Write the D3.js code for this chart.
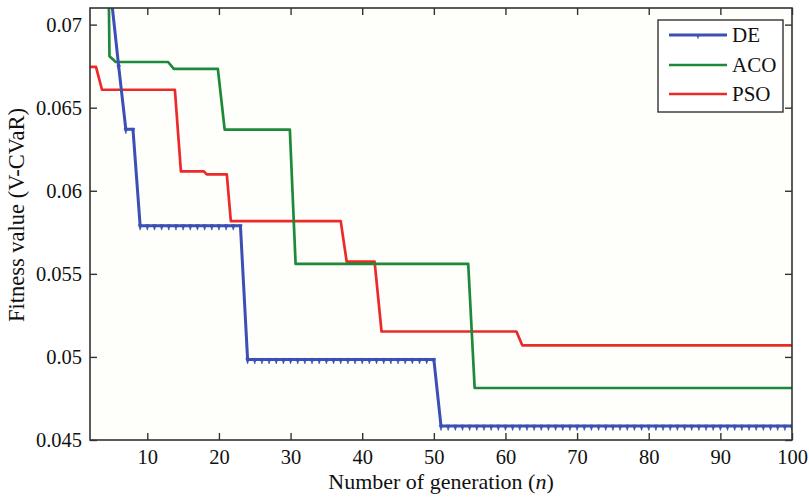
<!DOCTYPE html>
<html><head><meta charset="utf-8">
<script src="https://cdn.jsdelivr.net/npm/d3@7/dist/d3.min.js"></script>
<style>
body{margin:0;background:#fff}
svg{display:block}
text{font-family:"Liberation Serif","Times New Roman",serif;fill:#111}
</style></head>
<body><svg id="chart" width="809" height="497"></svg>
<script>
// ---- data ----
const xTicks = [10,20,30,40,50,60,70,80,90,100];
const yTicks = [0.045,0.05,0.055,0.06,0.065,0.07];
const yTickLabels = ["0.045","0.05","0.055","0.06","0.065","0.07"];
const seriesNames = ["DE","ACO","PSO"];

// DE: one value per generation, starting at generation 5
const deStart = 5;
const deValues = [
 0.0715,0.0675,0.0637,0.0637,
 0.0579,0.0579,0.0579,0.0579,0.0579,0.0579,0.0579,0.0579,0.0579,0.0579,0.0579,0.0579,0.0579,0.0579,0.0579,
 0.04985,0.04985,0.04985,0.04985,0.04985,0.04985,0.04985,0.04985,0.04985,0.04985,0.04985,0.04985,0.04985,0.04985,
 0.04985,0.04985,0.04985,0.04985,0.04985,0.04985,0.04985,0.04985,0.04985,0.04985,0.04985,0.04985,0.04985,
 0.04584,0.04584,0.04584,0.04584,0.04584,0.04584,0.04584,0.04584,0.04584,0.04584,
 0.04584,0.04584,0.04584,0.04584,0.04584,0.04584,0.04584,0.04584,0.04584,0.04584,
 0.04584,0.04584,0.04584,0.04584,0.04584,0.04584,0.04584,0.04584,0.04584,0.04584,
 0.04584,0.04584,0.04584,0.04584,0.04584,0.04584,0.04584,0.04584,0.04584,0.04584,
 0.04584,0.04584,0.04584,0.04584,0.04584,0.04584,0.04584,0.04584,0.04584,0.04584
];
// ACO breakpoints
const acoGen = [4.6,4.72,5.6,12.9,13.7,19.85,20.8,29.9,30.7,54.8,55.7,100];
const acoValues = [0.0725,0.0681,0.06775,0.06775,0.06734,0.06734,0.06368,0.06368,0.0556,0.0556,0.04813,0.04813];
// PSO breakpoints
const psoGen = [2,2.84,3.67,13.85,14.69,17.9,18.3,21.1,21.66,37.0,37.83,41.73,42.7,61.53,62.36,100];
const psoValues = [0.06746,0.06746,0.06608,0.06608,0.06117,0.06117,0.06099,0.06099,0.05817,0.05817,0.05574,0.05574,0.05153,0.05153,0.05069,0.05069];

// ---- layout ----
const L=90, R=792, T=8, B=440;
const colors = {DE:"#3b4fb5", ACO:"#1d8a3b", PSO:"#ec2a2a"};
const svg = d3.select("#chart");
const x = d3.scaleLinear().domain([2,100]).range([L,R]);
const y = d3.scaleLinear().domain([0.045,0.071]).range([B,T]);

svg.append("rect").attr("x",L).attr("y",T).attr("width",R-L).attr("height",B-T).attr("fill","#fefefb");

svg.append("clipPath").attr("id","clip").append("rect")
  .attr("x",L).attr("y",T).attr("width",R-L).attr("height",B-T);

const de = deValues.map((v,i)=>({n:deStart+i, v}));
const aco = acoGen.map((n,i)=>({n, v:acoValues[i]}));
const pso = psoGen.map((n,i)=>({n, v:psoValues[i]}));
const line = d3.line().x(d=>x(d.n)).y(d=>y(d.v));

const g = svg.append("g").attr("clip-path","url(#clip)");
g.append("path").datum(pso).attr("d",line).attr("fill","none").attr("stroke",colors.PSO).attr("stroke-width",2.7).attr("stroke-linejoin","round");
g.append("path").datum(aco).attr("d",line).attr("fill","none").attr("stroke",colors.ACO).attr("stroke-width",2.7).attr("stroke-linejoin","round");
g.append("path").datum(de).attr("d",line).attr("fill","none").attr("stroke",colors.DE).attr("stroke-width",3).attr("stroke-linejoin","round");
const tri = "M-1.8,-1 L1.8,-1 L0,4.5 Z";
g.selectAll(".m").data(de).enter().append("path")
  .attr("d",tri).attr("transform",d=>`translate(${x(d.n)},${y(d.v)})`)
  .attr("fill",colors.DE).attr("stroke",colors.DE).attr("stroke-width",0.6);

// ---- axes ----
const axisColor="#333";
const fs = 20.5;
const xb = d3.axisBottom(x).tickValues(xTicks).tickSizeInner(-7).tickSizeOuter(0).tickPadding(12);
const xa = svg.append("g").attr("transform",`translate(0,${B})`).call(xb);
const xt = d3.axisTop(x).tickValues(xTicks).tickSizeInner(-7).tickSizeOuter(0).tickFormat("");
const xta = svg.append("g").attr("transform",`translate(0,${T})`).call(xt);
const yl = d3.axisLeft(y).tickValues(yTicks).tickFormat((d,i)=>yTickLabels[i]).tickSizeInner(-7).tickSizeOuter(0).tickPadding(8);
const ya = svg.append("g").attr("transform",`translate(${L},0)`).call(yl);
const yr = d3.axisRight(y).tickValues(yTicks).tickSizeInner(-7).tickSizeOuter(0).tickFormat("");
const yra = svg.append("g").attr("transform",`translate(${R},0)`).call(yr);
[xa,xta,ya,yra].forEach(a=>{
  a.selectAll(".domain").remove();
  a.selectAll("line").attr("stroke",axisColor).attr("stroke-width",1.4);
  a.selectAll("text").attr("font-size",fs).attr("font-family","'Liberation Serif',serif").attr("fill","#111");
});
xa.selectAll("text").attr("dy","0").attr("y",24);
svg.append("rect").attr("x",L).attr("y",T).attr("width",R-L).attr("height",B-T)
  .attr("fill","none").attr("stroke",axisColor).attr("stroke-width",1.6);

// ---- labels ----
const xl = svg.append("text").attr("x",(L+R)/2).attr("y",489).attr("text-anchor","middle").attr("font-size",22);
xl.append("tspan").text("Number of generation (");
xl.append("tspan").attr("font-style","italic").text("n");
xl.append("tspan").text(")");
svg.append("text").attr("transform",`translate(24,215) rotate(-90)`).attr("text-anchor","middle")
  .attr("font-size",22.5).text("Fitness value (V-CVaR)");

// ---- legend ----
const lg = svg.append("g");
lg.append("rect").attr("x",658).attr("y",20).attr("width",125).attr("height",92)
  .attr("fill","#fff").attr("stroke",axisColor).attr("stroke-width",1.4);
const legY = [35,65,94];
seriesNames.forEach((s,i)=>{
  lg.append("line").attr("x1",669).attr("x2",727).attr("y1",legY[i]).attr("y2",legY[i])
    .attr("stroke",colors[s]).attr("stroke-width",s==="DE"?3:2.7);
  if(s==="DE") lg.append("path").attr("d",tri).attr("transform",`translate(698,${legY[i]})`).attr("fill",colors.DE);
  lg.append("text").attr("x",732).attr("y",legY[i]).attr("dy","0.35em").attr("font-size",21).text(s);
});
</script></body></html>
